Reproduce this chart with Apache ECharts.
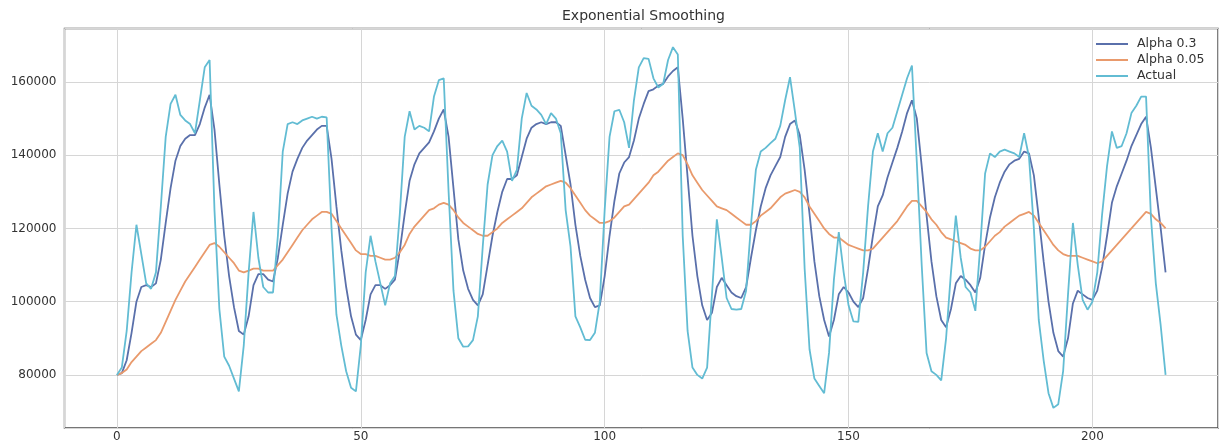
<!DOCTYPE html>
<html>
<head>
<meta charset="utf-8">
<script src="https://cdn.jsdelivr.net/npm/echarts@6/dist/echarts.min.js"></script>
<style>
html,body{margin:0;padding:0;background:#fff;}
#chart{width:1221px;height:443px;}
</style>
</head>
<body>
<div id="chart"></div>
<script>
const title = "Exponential Smoothing";
const seriesNames = ["Alpha 0.3", "Alpha 0.05", "Actual"];

const actual = [
80000,82000,92000,108000,121000,113000,105000,103500,108000,126000,
145000,154000,156500,151000,149500,148500,146000,155000,164000,166000,
125000,98000,85000,82500,79000,75500,88000,108000,124500,112000,
104000,102500,102500,118000,141000,148500,149000,148500,149500,150000,
150500,150000,150500,150300,120000,96500,88000,81000,76500,75500,
88000,108000,118000,111000,105000,99000,105000,107000,124000,145000,
152000,147000,148000,147500,146500,156000,160500,161000,130000,103000,
90000,87700,87800,89500,96000,115000,132000,140000,142500,144000,
141000,133000,136000,150000,157000,153500,152500,151000,148500,151500,
150000,146000,125000,115000,96000,93000,89600,89500,91500,100000,
125000,145000,152000,152400,149000,142000,155000,164000,166500,166300,
161000,158500,159500,166000,169500,167500,118000,92000,82000,80000,
79000,82000,102000,122500,112000,101000,98000,97800,98000,103000,
121000,136000,141000,142000,143300,144500,148000,155000,161300,152000,
142000,109000,87000,79000,77000,75000,86000,106000,119000,108000,
99000,94600,94500,108000,126000,141000,146000,141000,146000,147500,
152000,156500,161000,164500,138000,110000,86000,81000,80000,78500,
90000,108000,123500,112000,104000,102500,97500,115000,135000,140500,
139500,141000,141500,141000,140500,139500,146000,139500,120000,95000,
84000,75000,71000,72000,81000,102000,121500,110000,100500,97800,
100000,108000,124000,137000,146500,142000,142500,146000,151500,153500,
156000,156000,123000,105000,93500,80000
];

const alpha03 = [
80000,80500,84000,91500,100000,104000,104500,104000,105000,111500,
121500,131000,138500,142500,144500,145500,145500,148500,153000,156500,
147000,132000,118000,107000,98500,92000,91000,96000,104500,107500,
107500,106000,105500,112000,121000,129500,135500,139000,142000,144000,
145500,147000,148000,148000,139000,126000,114000,104000,96000,91000,
89500,95000,102000,104500,104500,103500,104500,106000,114000,124000,
133000,137500,140500,142000,143500,146500,150000,152500,145000,131000,
117000,108500,103500,100500,99000,102000,110000,118000,124500,130000,
133500,133500,134500,139500,144500,147500,148500,149000,148500,149000,
149000,148000,140000,132000,121000,112500,106000,101000,98500,99000,
107000,118000,127500,135000,138000,139500,144000,150000,154000,157500,
158000,159000,159500,161500,163000,164000,150000,134000,118000,107000,
99000,95000,97000,104000,106500,104500,102500,101500,101000,104000,
112000,119500,126000,131000,134500,137000,139500,145000,148500,149500,
145500,136000,124000,111000,101500,95000,90500,95000,102000,104000,
102500,100000,98500,101000,109000,118000,126000,129000,134000,138000,
142000,146500,151500,155000,150000,137000,123500,111000,101500,95000,
93000,98000,105000,107000,106000,104500,102500,106500,115500,123000,
128500,132500,135500,137500,138500,139000,141000,140500,134500,123000,
111000,100000,91500,86500,85000,90000,99500,103000,102000,101000,
100500,103000,109500,118000,127000,131500,135000,138500,142500,145500,
148500,150500,142000,131000,120000,108000
];

const alpha005 = [
80000,80500,81500,83500,85000,86500,87500,88500,89500,91500,
94500,97500,100500,103000,105500,107500,109500,111500,113500,115500,
116000,115000,113500,112000,110500,108500,108000,108500,109000,109000,
108500,108500,108500,110000,111500,113500,115500,117500,119500,121000,
122500,123500,124500,124500,124000,122000,120000,118000,116000,114000,
113000,113000,112500,112500,112000,111500,111500,112000,113500,115500,
118500,120500,122000,123500,125000,125500,126500,127000,126500,125000,
123000,121500,120500,119500,118500,118000,118000,119000,120000,121500,
122500,123500,124500,125500,127000,128500,129500,130500,131500,132000,
132500,133000,132500,131000,129000,127000,125000,123500,122500,121500,
121500,122000,123000,124500,126000,126500,128000,129500,131000,132500,
134500,135500,137000,138500,139500,140500,140000,137500,134500,132500,
130500,129000,127500,126000,125500,125000,124000,123000,122000,121000,
121000,122000,123500,124500,125500,127000,128500,129500,130000,130500,
130000,128500,126000,124000,122000,120000,118500,117500,117500,116500,
115500,115000,114500,114000,114000,114500,116000,117500,119000,120500,
122000,124000,126000,127500,127500,126000,124500,122500,121000,119000,
117500,117000,116500,116000,115500,114500,114000,114000,115000,116500,
118000,119000,120500,121500,122500,123500,124000,124500,123500,121500,
119500,117500,115500,114000,113000,112500,112500,112500,112000,111500,
111000,110500,111000,112500,114000,115500,117000,118500,120000,121500,
123000,124500,124000,122500,121500,120000
];

const colors = ["#5a70ab", "#e99a6c", "#62bcd3"];

function pairs(arr){ return arr.map((v,i)=>[i,v]); }

const chart = echarts.init(document.getElementById('chart'), null, {renderer:'canvas'});
const FONT = "DejaVu Sans";
chart.setOption({
  animation:false,
  backgroundColor:'#fff',
  title:{
    text:title,
    left:557, top:4,
    textStyle:{fontFamily:FONT,fontSize:14,fontWeight:'normal',color:'#333'}
  },
  legend:{
    orient:'vertical',
    left:1091, top:31,
    itemWidth:32, itemHeight:2, itemGap:0,
    icon:'rect',
    textStyle:{fontFamily:FONT,fontSize:12.5,color:'#333',lineHeight:16,padding:[0,0,0,4]},
    data:seriesNames
  },
  grid:{
    left:64.5, right:0, top:28.5, bottom:15,
    show:true, borderColor:'#4a4a4a', borderWidth:1.4, backgroundColor:'transparent'
  },
  xAxis:{
    type:'value', min:-10.75, max:225.75, splitNumber:5,
    axisLine:{show:false}, axisTick:{show:false},
    axisLabel:{
      margin:3, fontFamily:FONT, fontSize:12, color:'#333',
      formatter:function(v){ return (Math.abs(v % 50) < 1e-6) ? String(v) : ''; }
    },
    splitLine:{show:true, lineStyle:{color:'#d6d6d6', width:1}}
  },
  yAxis:{
    type:'value', min:65500, max:174600, splitNumber:5,
    axisLine:{show:false}, axisTick:{show:false},
    axisLabel:{
      margin:8, fontFamily:FONT, fontSize:12, color:'#333',
      formatter:function(v){ return (Math.abs(v % 20000) < 1e-6) ? String(v) : ''; }
    },
    splitLine:{show:true, lineStyle:{color:'#d6d6d6', width:1}}
  },
  series:[
    {name:seriesNames[0], type:'line', data:pairs(alpha03), showSymbol:false, symbol:'none',
     color:colors[0], lineStyle:{color:colors[0], width:1.8}},
    {name:seriesNames[1], type:'line', data:pairs(alpha005), showSymbol:false, symbol:'none',
     color:colors[1], lineStyle:{color:colors[1], width:1.8}},
    {name:seriesNames[2], type:'line', data:pairs(actual), showSymbol:false, symbol:'none',
     color:colors[2], lineStyle:{color:colors[2], width:1.8}}
  ]
});
</script>
</body>
</html>
